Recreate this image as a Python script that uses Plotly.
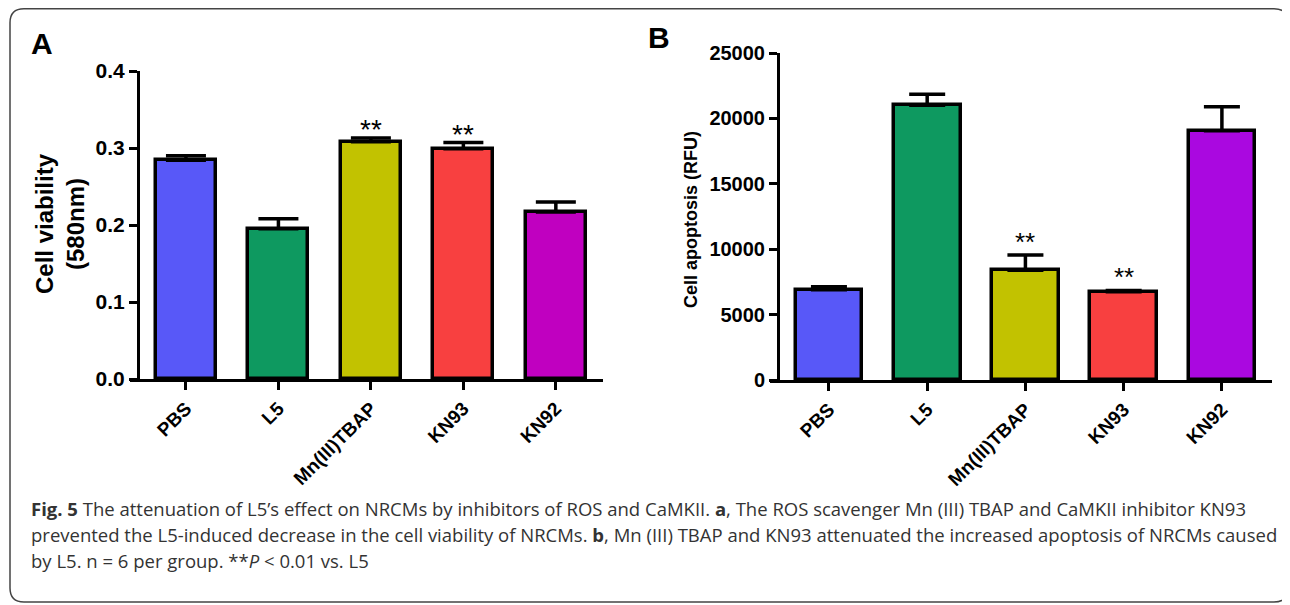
import plotly.graph_objects as go

# page body has an 8px margin; the figure is sized so it fills the rest of the window
OFF = 8
W, H = 1290 - OFF, 605 - OFF

categories = ["PBS", "L5", "Mn(III)TBAP", "KN93", "KN92"]

viability = [0.284, 0.195, 0.308, 0.299, 0.217]
viability_err = [0.006, 0.013, 0.005, 0.008, 0.013]
viability_sig = ["", "", "**", "**", ""]

apoptosis = [6900, 21000, 8400, 6750, 19050]
apoptosis_err = [230, 850, 1150, 100, 1850]
apoptosis_sig = ["", "", "**", "**", ""]

colors_a = ["#5858F8", "#0E9960", "#C2C200", "#F84040", "#C000C0"]
colors_b = ["#5858F8", "#0E9960", "#C2C200", "#F84040", "#AA08E0"]

yticks_a = [0.0, 0.1, 0.2, 0.3, 0.4]
yticks_a_text = ["0.0", "0.1", "0.2", "0.3", "0.4"]
yticks_b = [0, 5000, 10000, 15000, 20000, 25000]

FONT = "Arial, Liberation Sans, sans-serif"


def px(x):
    """window x pixel -> paper fraction"""
    return (x - OFF) / W


def py(y):
    """window y pixel -> paper fraction"""
    return 1 - (y - OFF) / H


xpos = list(range(len(categories)))

fig = go.Figure()

fig.add_trace(go.Bar(
    x=xpos, y=viability, width=0.65,
    marker=dict(color=colors_a, line=dict(color="black", width=3.5)),
    error_y=dict(type="data", symmetric=False, array=viability_err,
                 arrayminus=[0] * len(viability), color="black", thickness=3.5, width=20),
    xaxis="x", yaxis="y", showlegend=False,
))
fig.add_trace(go.Bar(
    x=xpos, y=apoptosis, width=0.68,
    marker=dict(color=colors_b, line=dict(color="black", width=3.5)),
    error_y=dict(type="data", symmetric=False, array=apoptosis_err,
                 arrayminus=[0] * len(apoptosis), color="black", thickness=3.5, width=18),
    xaxis="x2", yaxis="y2", showlegend=False,
))

axis_common = dict(showgrid=False, zeroline=False, showline=True, linecolor="black",
                   linewidth=3, ticks="outside", tickcolor="black", tickwidth=3, ticklen=8,
                   automargin=False, fixedrange=True)

fig.update_layout(
    template="none",
    width=W, height=H,
    margin=dict(l=0, r=0, t=0, b=0, pad=0, autoexpand=False),
    paper_bgcolor="white", plot_bgcolor="white",
    bargap=0,
    showlegend=False,
    xaxis=dict(domain=[px(130), px(603)], range=[-0.605, 4.51], anchor="y",
               tickmode="array", tickvals=xpos, ticktext=categories, tickangle=-45,
               tickfont=dict(family=FONT, size=19, color="black", weight="bold"),
               **axis_common),
    yaxis=dict(domain=[py(379), py(71)], range=[0, 0.4], anchor="free", position=px(138),
               tickmode="array", tickvals=yticks_a, ticktext=yticks_a_text,
               tickfont=dict(family=FONT, size=21, color="black", weight="bold"),
               **axis_common),
    xaxis2=dict(domain=[px(770), px(1272)], range=[-0.60, 4.51], anchor="y2",
                tickmode="array", tickvals=xpos, ticktext=categories, tickangle=-45,
                tickfont=dict(family=FONT, size=19, color="black", weight="bold"),
                **axis_common),
    yaxis2=dict(domain=[py(380), py(53)], range=[0, 25000], anchor="free", position=px(778),
                tickmode="array", tickvals=yticks_b, ticktext=[str(v) for v in yticks_b],
                tickfont=dict(family=FONT, size=20, color="black", weight="bold"),
                **axis_common),
)

ann = []
for i, s in enumerate(viability_sig):
    if s:
        ann.append(dict(x=i, y=viability[i] + viability_err[i], xref="x", yref="y",
                        text=s, showarrow=False, xanchor="center", yanchor="bottom", yshift=-9,
                        font=dict(family=FONT, size=28, color="black")))
for i, s in enumerate(apoptosis_sig):
    if s:
        ann.append(dict(x=i, y=apoptosis[i] + apoptosis_err[i], xref="x2", yref="y2",
                        text=s, showarrow=False, xanchor="center", yanchor="bottom", yshift=-4,
                        font=dict(family=FONT, size=26, color="black")))

ann.append(dict(x=px(60), y=py(224), xref="paper", yref="paper", showarrow=False,
                xanchor="center", yanchor="middle",
                text="Cell viability<br>(580nm)", textangle=-90,
                font=dict(family=FONT, size=24, color="black", weight="bold")))
ann.append(dict(x=px(691), y=py(220), xref="paper", yref="paper", showarrow=False,
                xanchor="center", yanchor="middle",
                text="Cell apoptosis (RFU)", textangle=-90,
                font=dict(family=FONT, size=18, color="black", weight="bold")))
ann.append(dict(x=px(42), y=py(43), xref="paper", yref="paper", showarrow=False,
                xanchor="center", yanchor="middle",
                text="A", font=dict(family=FONT, size=30, color="black", weight="bold")))
ann.append(dict(x=px(659), y=py(38), xref="paper", yref="paper", showarrow=False,
                xanchor="center", yanchor="middle",
                text="B", font=dict(family=FONT, size=30, color="black", weight="bold")))

caption = [
    "<b>Fig. 5</b> The attenuation of L5’s effect on NRCMs by inhibitors of ROS and CaMKII. <b>a</b>, The ROS scavenger Mn (III) TBAP and CaMKII inhibitor KN93",
    "prevented the L5-induced decrease in the cell viability of NRCMs. <b>b</b>, Mn (III) TBAP and KN93 attenuated the increased apoptosis of NRCMs caused",
    "by L5. n = 6 per group. **<i>P</i> &lt; 0.01 vs. L5",
]
cap_y = [508, 534, 560]
for t, yy in zip(caption, cap_y):
    ann.append(dict(x=px(29), y=py(yy), xref="paper", yref="paper", showarrow=False,
                    xanchor="left", yanchor="middle", text=t,
                    font=dict(family="Open Sans", size=18.5, color="#333333")))

fig.update_layout(annotations=ann)

# rounded border
x0, x1 = px(10), px(1288)
yt, yb = py(8.8), py(602)
rx, ry = 14 / W, 14 / H
path = (f"M {x0+rx},{yt} L {x1-rx},{yt} Q {x1},{yt} {x1},{yt-ry} "
        f"L {x1},{yb+ry} Q {x1},{yb} {x1-rx},{yb} L {x0+rx},{yb} "
        f"Q {x0},{yb} {x0},{yb+ry} L {x0},{yt-ry} Q {x0},{yt} {x0+rx},{yt} Z")
fig.add_shape(type="path", path=path, xref="paper", yref="paper",
              line=dict(color="#444444", width=1.5))

fig.write_html("out.html", config={"displayModeBar": False})
